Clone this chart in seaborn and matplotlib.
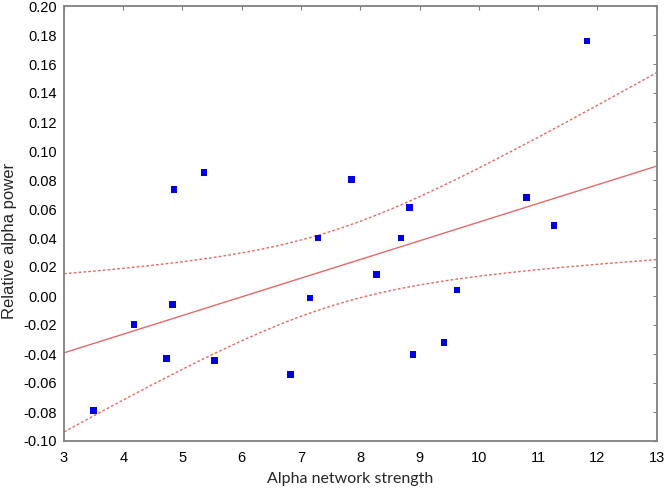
import numpy as np
import pandas as pd
import matplotlib.pyplot as plt
import seaborn as sns

# Values
network_strength = [3.50, 4.18, 4.73, 4.83, 4.86, 5.36, 5.54, 6.82, 7.15, 7.29,
                    7.85, 8.27, 8.69, 8.83, 8.89, 9.41, 9.63, 10.81, 11.27, 11.83]
alpha_power = [-0.079, -0.0195, -0.043, -0.006, 0.0735, 0.085, -0.0445, -0.054, -0.0015, 0.040,
               0.0805, 0.015, 0.040, 0.061, -0.0405, -0.032, 0.004, 0.068, 0.0485, 0.176]
x_ticks = list(range(3, 14))
y_ticks = [round(-0.10 + 0.02 * i, 2) for i in range(16)]

df = pd.DataFrame({"strength": network_strength, "power": alpha_power})

sns.set_style("white")
plt.rcParams["font.family"] = ["Liberation Sans", "DejaVu Sans"]

fig, ax = plt.subplots(figsize=(6.66, 4.91), dpi=100)
fig.subplots_adjust(left=64 / 666, right=656.5 / 666, top=1 - 6 / 491, bottom=1 - 441 / 491)

line_color = "#e36a6a"
ax.set_xlim(3, 13)
ax.set_ylim(-0.10, 0.20)

# Fitted line over the full x range
sns.regplot(data=df, x="strength", y="power", ci=None, truncate=False, marker="s",
            scatter_kws=dict(s=22, color="#0000e0", edgecolors="none", alpha=1, zorder=3),
            line_kws=dict(color=line_color, lw=1.0), ax=ax)

# 95% confidence bands for the mean
x = df["strength"].to_numpy()
y = df["power"].to_numpy()
n = len(x)
slope, intercept = np.polyfit(x, y, 1)
resid = y - (slope * x + intercept)
s_err = np.sqrt(np.sum(resid ** 2) / (n - 2))
xs = np.linspace(3, 13, 200)
se = s_err * np.sqrt(1 / n + (xs - x.mean()) ** 2 / np.sum((x - x.mean()) ** 2))
t_val = 2.101
fit = slope * xs + intercept
ax.plot(xs, fit + t_val * se, color=line_color, lw=1.0, ls=(0, (2, 1.5)))
ax.plot(xs, fit - t_val * se, color=line_color, lw=1.0, ls=(0, (2, 1.5)))

ax.set_xlim(3, 13)
ax.set_ylim(-0.10, 0.20)
ax.set_xticks(x_ticks)
ax.set_yticks(y_ticks)
ax.set_yticklabels([f"{v:.2f}" for v in y_ticks])

for sp in ax.spines.values():
    sp.set_color("#808080")
    sp.set_linewidth(1.3)
ax.tick_params(direction="in", length=3, width=0.8, color="#808080",
               top=True, right=True, labelsize=10.5, pad=5, labelcolor="black")
ax.tick_params(axis="x", pad=7)

ax.set_xlabel("Alpha network strength", fontsize=11.5, family="Lato", labelpad=5)
ax.set_ylabel("Relative alpha power", fontsize=12, family="Liberation Sans", labelpad=5)
ax.xaxis.label.set_x(0.483)
ax.yaxis.label.set_y(0.461)

fig.savefig("out.png", dpi=100)
